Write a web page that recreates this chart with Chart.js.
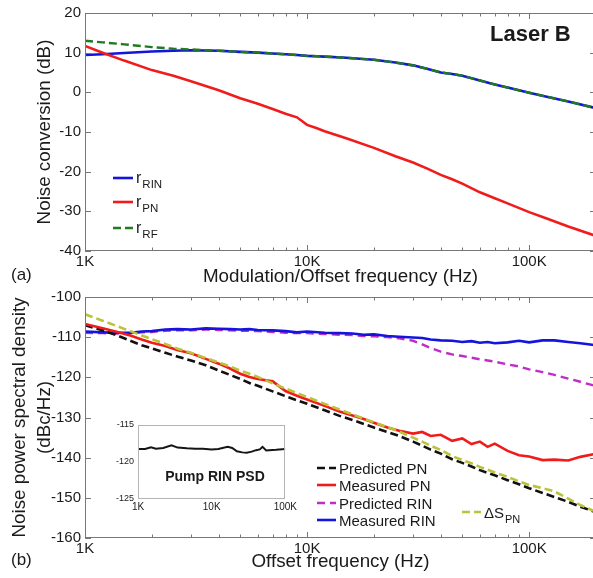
<!DOCTYPE html>
<html>
<head>
<meta charset="utf-8">
<script src="https://cdn.jsdelivr.net/npm/chart.js@4.4.1/dist/chart.umd.min.js"></script>
<style>
  html, body { margin: 0; padding: 0; background: #fff; overflow: hidden; }
  #wrap { position: relative; width: 593px; height: 578px; overflow: hidden; }
  #wrap canvas { position: absolute; }
</style>
</head>
<body>
<div id="wrap">
  <canvas id="chartA" width="597" height="290" style="left:0px;top:0px"></canvas>
  <canvas id="chartB" width="597" height="298" style="left:0px;top:280px"></canvas>
  <canvas id="chartInset" width="205" height="100" style="left:95px;top:415px"></canvas>
</div>
<script>
// ---- panel (a): noise conversion ----
const freqA = [1000, 1200, 1500, 2000, 2500, 3000, 4000, 5000, 6000, 7000, 8000, 9000, 10000, 11000, 12000,
  15000, 20000, 25000, 30000, 35000, 40000, 45000, 50000, 60000, 70000, 80000, 100000, 120000, 150000, 200000];
const rRIN = [9.4, 9.6, 9.9, 10.3, 10.5, 10.6, 10.5, 10.2, 10.0, 9.8, 9.6, 9.4, 9.2, 9.1, 9.0,
  8.7, 8.2, 7.5, 6.8, 5.9, 5.0, 4.6, 4.2, 3.0, 2.0, 1.2, -0.1, -1.1, -2.3, -4.0];
const rPN = [11.7, 10.0, 8.0, 5.6, 4.2, 2.8, 0.5, -1.5, -2.9, -4.2, -5.4, -6.3, -8.2, -9.0, -9.8,
  -11.6, -14.0, -16.1, -17.7, -19.3, -20.8, -21.9, -23.0, -25.2, -26.7, -28.0, -30.2, -31.8, -33.8, -36.2];
const rRF = [13.0, 12.6, 12.1, 11.4, 11.0, 10.8, 10.5, 10.2, 10.0, 9.8, 9.6, 9.4, 9.2, 9.1, 9.0,
  8.7, 8.2, 7.5, 6.8, 5.9, 5.0, 4.6, 4.2, 3.0, 2.0, 1.2, -0.1, -1.1, -2.3, -4.0];
const legendSubA = ['RIN', 'PN', 'RF'];

// ---- panel (b): noise PSD ----
const freqB = [1000, 1200, 1400, 1600, 1800, 2000, 2300, 2600, 3000, 3500, 4000, 4500, 5000, 5500, 6000,
  7000, 8000, 9000, 10000, 12000, 14000, 16000, 18000, 20000, 23000, 26000, 30000, 33000, 36000, 40000,
  45000, 50000, 55000, 60000, 65000, 70000, 80000, 90000, 100000, 115000, 130000, 150000, 170000, 200000];
const predictedPN = [-107.0, -108.3, -109.6, -110.9, -112.0, -112.8, -113.9, -114.8, -115.8, -117.0, -118.3, -119.4, -120.4, -121.4, -122.1,
  -123.5, -124.7, -125.7, -126.6, -128.2, -129.6, -130.6, -131.6, -132.5, -133.6, -134.6, -136.0, -137.0, -138.0, -139.0,
  -140.4, -141.3, -142.2, -143.1, -143.8, -144.4, -145.6, -146.6, -147.6, -148.8, -149.8, -151.0, -152.2, -153.6];
const measuredPN = [-106.7, -107.8, -108.7, -109.6, -110.6, -111.4, -112.2, -113.2, -114.0, -115.4, -116.6, -117.8, -119.1, -119.9, -120.4,
  -121.0, -123.4, -124.6, -125.5, -127.1, -128.5, -129.5, -130.4, -131.3, -132.5, -133.3, -134.0, -133.6, -134.6, -134.3,
  -135.8, -135.2, -136.6, -136.0, -137.3, -136.5, -138.3, -139.4, -139.7, -140.6, -140.5, -140.7, -139.8, -139.0];
const predictedRIN = [-108.9, -109.0, -109.1, -109.0, -108.8, -108.7, -108.4, -108.3, -108.3, -108.1, -108.2, -108.3, -108.4, -108.4, -108.5,
  -108.7, -108.9, -109.0, -109.0, -109.2, -109.4, -109.5, -109.7, -109.8, -110.0, -110.3, -110.9, -111.8, -112.7, -113.6,
  -114.3, -114.7, -115.1, -115.5, -115.8, -116.1, -116.8, -117.3, -118.0, -118.7, -119.4, -120.3, -121.1, -122.2];
const measuredRIN = [-108.6, -108.8, -108.9, -108.9, -108.6, -108.5, -108.1, -108.0, -108.1, -107.8, -107.9, -108.0, -108.1, -108.0, -108.2,
  -108.3, -108.5, -108.8, -108.6, -108.9, -109.0, -109.1, -109.4, -109.3, -109.7, -109.9, -110.1, -110.2, -110.6, -110.8,
  -110.9, -111.2, -111.0, -111.4, -111.2, -111.5, -111.3, -110.9, -111.3, -110.8, -110.8, -111.2, -111.5, -112.0];
const deltaSPN = [-104.3, -105.9, -107.3, -108.5, -109.6, -110.5, -111.7, -112.8, -113.9, -115.2, -116.3, -117.3, -118.3, -119.1, -119.9,
  -121.5, -122.8, -123.9, -124.9, -126.6, -128.0, -129.2, -130.3, -131.2, -132.4, -133.5, -135.0, -136.0, -137.0, -138.1,
  -139.6, -140.6, -141.4, -142.3, -143.0, -143.7, -144.8, -145.9, -146.8, -147.6, -148.4, -150.2, -151.8, -153.5];
const legendNamesB = ['Predicted PN', 'Measured PN', 'Predicted RIN', 'Measured RIN'];

// ---- inset: pump RIN PSD ----
const freqP = [1000, 1250, 1500, 1750, 2200, 2850, 3450, 4600, 6000, 7600, 10000, 12300, 16500, 19000, 22000,
  26000, 30000, 35000, 40000, 45000, 49000, 55000, 60000, 75000, 100000];
const pumpRIN = [-118.25, -118.25, -118.0, -118.2, -118.1, -117.75, -118.05, -118.15, -118.2, -118.2, -118.3, -118.25, -117.95, -118.1, -118.55,
  -118.7, -118.75, -118.6, -118.4, -118.3, -117.95, -118.45, -118.4, -118.35, -118.25];

// ticks
const xTickVals = [1000, 10000, 100000];
const xTickLabels = ['1K', '10K', '100K'];

const FONT = "'Liberation Sans', Arial, sans-serif";
const TXT = '#1a1a1a';

function pts(xs, ys) {
  return xs.map((x, i) => ({ x: x, y: ys[i] }));
}

// box around the plot with inward ticks (major at decades, minor in between)
const frameTicks = {
  id: 'frameTicks',
  afterDatasetsDraw(chart, args, opts) {
    const { ctx, chartArea: a } = chart;
    const xs = chart.scales.x, ys = chart.scales.y;
    ctx.save();
    ctx.strokeStyle = opts.color;
    ctx.lineWidth = 1;
    ctx.strokeRect(Math.round(a.left) + 0.5, Math.round(a.top) + 0.5,
      Math.round(a.right - a.left) - 1, Math.round(a.bottom - a.top) - 1);
    if (opts.ticks) {
      ctx.beginPath();
      for (let dec = 1000; dec <= xs.max; dec *= 10) {
        for (let m = 1; m < 10; m++) {
          const v = m * dec;
          if (v > xs.max) break;
          const px = Math.round(xs.getPixelForValue(v)) + 0.5;
          const len = m === 1 ? opts.major : opts.minor;
          ctx.moveTo(px, a.bottom); ctx.lineTo(px, a.bottom - len);
          ctx.moveTo(px, a.top); ctx.lineTo(px, a.top + len);
        }
      }
      ys.ticks.forEach(t => {
        const py = Math.round(ys.getPixelForValue(t.value)) + 0.5;
        ctx.moveTo(a.left, py); ctx.lineTo(a.left + opts.major, py);
        ctx.moveTo(a.right, py); ctx.lineTo(a.right - opts.major, py);
      });
      ctx.stroke();
    }
    ctx.restore();
  }
};

// legend with subscripts, drawn from the datasets' own colours and dashes
const subLegend = {
  id: 'subLegend',
  afterDraw(chart, args, opts) {
    if (!opts.items) return;
    const ctx = chart.ctx;
    ctx.save();
    opts.items.forEach(it => {
      const ds = chart.data.datasets[it.index];
      ctx.strokeStyle = ds.borderColor;
      ctx.lineWidth = ds.borderWidth;
      ctx.setLineDash(ds.borderDash || []);
      ctx.beginPath();
      ctx.moveTo(it.x, it.y);
      ctx.lineTo(it.x + opts.lineLen, it.y);
      ctx.stroke();
      ctx.setLineDash([]);
      ctx.fillStyle = TXT;
      ctx.textAlign = 'left';
      ctx.textBaseline = 'alphabetic';
      ctx.font = opts.mainFont;
      let tx = it.x + opts.lineLen + opts.gap;
      ctx.fillText(it.main, tx, it.y + opts.baseShift);
      if (it.sub) {
        tx += ctx.measureText(it.main).width + 1;
        ctx.font = opts.subFont;
        ctx.fillText(it.sub, tx, it.y + opts.subShift);
      }
    });
    ctx.restore();
  }
};

// free texts: panel letters, "Laser B", inset caption
const notes = {
  id: 'notes',
  beforeDatasetsDraw(chart, args, opts) {
    if (!opts.fill) return;
    const a = chart.chartArea;
    chart.ctx.save();
    chart.ctx.fillStyle = opts.fill;
    chart.ctx.fillRect(a.left, a.top, a.right - a.left, a.bottom - a.top);
    chart.ctx.restore();
  },
  afterDraw(chart, args, opts) {
    if (!opts.texts) return;
    const ctx = chart.ctx;
    ctx.save();
    opts.texts.forEach(t => {
      ctx.font = t.font;
      ctx.fillStyle = TXT;
      ctx.textAlign = t.align || 'left';
      ctx.textBaseline = 'middle';
      ctx.fillText(t.text, t.x, t.y);
    });
    ctx.restore();
  }
};

function logX(min, max, fontSize, pad, title) {
  return {
    type: 'logarithmic',
    min: min,
    max: max,
    afterBuildTicks: s => { s.ticks = xTickVals.filter(v => v >= min && v <= max).map(v => ({ value: v })); },
    afterFit: s => { s.height = pad.h; },
    grid: { display: false, drawTicks: false },
    border: { display: false },
    ticks: {
      autoSkip: false, maxRotation: 0, padding: pad.ticks, color: TXT,
      font: { family: FONT, size: fontSize, lineHeight: 1 },
      callback: v => xTickLabels[xTickVals.indexOf(v)]
    },
    title: title
  };
}

function linY(min, max, step, fontSize, width, title) {
  return {
    type: 'linear',
    min: min,
    max: max,
    afterFit: s => { s.width = width; },
    grid: { display: false, drawTicks: false },
    border: { display: false },
    ticks: { stepSize: step, padding: 4, color: TXT, font: { family: FONT, size: fontSize } },
    title: title
  };
}

const baseOpts = {
  responsive: false,
  animation: false,
  devicePixelRatio: 1,
  events: []
};

Chart.defaults.font.family = FONT;

// panel (a)
new Chart(document.getElementById('chartA'), {
  type: 'line',
  data: {
    datasets: [
      { label: 'r_RIN', data: pts(freqA, rRIN), borderColor: '#1414dc', borderWidth: 2.6, order: 2 },
      { label: 'r_PN', data: pts(freqA, rPN), borderColor: '#f01c1c', borderWidth: 2.6, order: 1 },
      { label: 'r_RF', data: pts(freqA, rRF), borderColor: '#217a21', borderWidth: 2.4, borderDash: [8, 4], order: 0 }
    ]
  },
  options: Object.assign({}, baseOpts, {
    layout: { padding: { left: 0, top: 13, right: 1, bottom: 0 } },
    elements: { point: { radius: 0 }, line: { tension: 0 } },
    scales: {
      x: logX(1000, 200000, 15, { h: 39, ticks: 3 }, {
        display: true, text: 'Modulation/Offset frequency (Hz)', color: TXT,
        font: { family: FONT, size: 18.8 }, padding: { top: 0, bottom: 2 }
      }),
      y: linY(-40, 20, 10, 15, 85, {
        display: true, text: 'Noise conversion (dB)', color: TXT,
        font: { family: FONT, size: 18.8 }, padding: { top: 34, bottom: 0 }
      })
    },
    plugins: {
      legend: { display: false },
      tooltip: { enabled: false },
      frameTicks: { color: '#777', ticks: true, major: 6, minor: 3.5 },
      subLegend: {
        lineLen: 20, gap: 3, baseShift: 5, subShift: 10,
        mainFont: '16px ' + FONT, subFont: '11.5px ' + FONT,
        items: [
          { index: 0, x: 113, y: 178, main: 'r', sub: legendSubA[0] },
          { index: 1, x: 113, y: 202, main: 'r', sub: legendSubA[1] },
          { index: 2, x: 113, y: 228, main: 'r', sub: legendSubA[2] }
        ]
      },
      notes: {
        texts: [
          { text: '(a)', x: 11, y: 275, font: '17px ' + FONT },
          { text: 'Laser B', x: 490, y: 35, font: 'bold 22px ' + FONT }
        ]
      }
    }
  }),
  plugins: [frameTicks, subLegend, notes]
});

// panel (b)
new Chart(document.getElementById('chartB'), {
  type: 'line',
  data: {
    datasets: [
      { label: legendNamesB[0], data: pts(freqB, predictedPN), borderColor: '#111111', borderWidth: 2.6, borderDash: [8, 4], order: 2 },
      { label: legendNamesB[1], data: pts(freqB, measuredPN), borderColor: '#f01c1c', borderWidth: 2.6, order: 1 },
      { label: legendNamesB[2], data: pts(freqB, predictedRIN), borderColor: '#c02cc8', borderWidth: 2.4, borderDash: [8, 5], order: 4 },
      { label: legendNamesB[3], data: pts(freqB, measuredRIN), borderColor: '#1414dc', borderWidth: 2.6, order: 3 },
      { label: 'ΔS_PN', data: pts(freqB, deltaSPN), borderColor: '#bcc23a', borderWidth: 2.6, borderDash: [8, 4], order: 0 }
    ]
  },
  options: Object.assign({}, baseOpts, {
    layout: { padding: { left: 0, top: 17, right: 1, bottom: 0 } },
    elements: { point: { radius: 0 }, line: { tension: 0 } },
    scales: {
      x: logX(1000, 200000, 15, { h: 40, ticks: 3 }, {
        display: true, text: 'Offset frequency (Hz)', color: TXT,
        font: { family: FONT, size: 18.8 }, padding: { top: 0, bottom: 5 }
      }),
      y: linY(-160, -100, 10, 15, 85, {
        display: true, text: ['Noise power spectral density', '(dBc/Hz)'], color: TXT,
        font: { family: FONT, size: 18.8, lineHeight: 1.3 }, padding: { top: 8, bottom: 0 }
      })
    },
    plugins: {
      legend: { display: false },
      tooltip: { enabled: false },
      frameTicks: { color: '#777', ticks: true, major: 6, minor: 3.5 },
      subLegend: {
        lineLen: 19, gap: 3, baseShift: 6, subShift: 11,
        mainFont: '15px ' + FONT, subFont: '11px ' + FONT,
        items: [
          { index: 0, x: 317, y: 188, main: legendNamesB[0] },
          { index: 1, x: 317, y: 205, main: legendNamesB[1] },
          { index: 2, x: 317, y: 223, main: legendNamesB[2] },
          { index: 3, x: 317, y: 240, main: legendNamesB[3] },
          { index: 4, x: 462, y: 232, main: 'ΔS', sub: 'PN' }
        ]
      },
      notes: {
        texts: [
          { text: '(b)', x: 11, y: 280, font: '17px ' + FONT }
        ]
      }
    }
  }),
  plugins: [frameTicks, subLegend, notes]
});

// inset
new Chart(document.getElementById('chartInset'), {
  type: 'line',
  data: {
    datasets: [
      { label: 'Pump RIN PSD', data: pts(freqP, pumpRIN), borderColor: '#151515', borderWidth: 2 }
    ]
  },
  options: Object.assign({}, baseOpts, {
    layout: { padding: { left: 0, top: 10, right: 6, bottom: 0 } },
    elements: { point: { radius: 0 }, line: { tension: 0 } },
    scales: {
      x: logX(1000, 100000, 10, { h: 16, ticks: 3 }, { display: false }),
      y: Object.assign(linY(-125, -115, 5, 9, 43, { display: false }), {})
    },
    plugins: {
      legend: { display: false },
      tooltip: { enabled: false },
      frameTicks: { color: '#b4b4b4', ticks: false },
      notes: {
        fill: '#ffffff',
        texts: [
          { text: 'Pump RIN PSD', x: 120, y: 62, font: 'bold 14px ' + FONT, align: 'center' }
        ]
      }
    }
  }),
  plugins: [frameTicks, notes]
});
</script>
</body>
</html>
